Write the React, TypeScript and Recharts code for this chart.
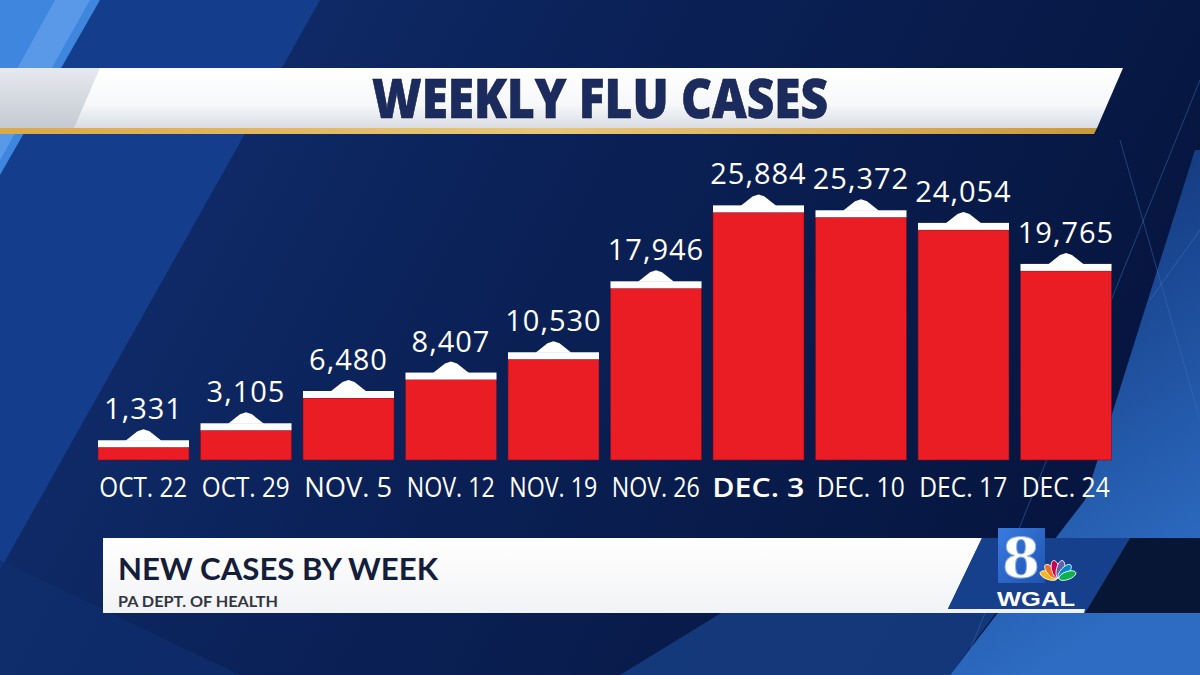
import React from "react"
import { BarChart, Bar, XAxis, YAxis, LabelList } from "recharts"

// weekly flu cases, PA dept. of health
const weeks = ["OCT. 22", "OCT. 29", "NOV. 5", "NOV. 12", "NOV. 19", "NOV. 26", "DEC. 3", "DEC. 10", "DEC. 17", "DEC. 24"]
const cases = [1331, 3105, 6480, 8407, 10530, 17946, 25884, 25372, 24054, 19765]
const highlightWeek = "DEC. 3"

const chartData = weeks.map((week, i) => ({ week, cases: cases[i] }))

const RED = "#ea1c24"
const NAVY_TEXT = "#1b2b5e"

// red bar with white cap and little peak on top
const CappedBar = (props: any) => {
    const { x, y, width, height } = props
    if (width == null || height == null) return null
    const cx = x + width / 2
    const capH = 7
    return (
        <g>
            <rect x={x} y={y} width={width} height={height} fill={RED} stroke="#7a1020" strokeWidth={0.6} />
            <rect x={x} y={y - capH} width={width} height={capH} fill="#ffffff" />
            <polygon
                points={`${cx - 18},${y - capH + 0.5} ${cx - 6},${y - capH - 9} ${cx},${y - capH - 11} ${cx + 6},${y - capH - 9} ${cx + 18},${y - capH + 0.5}`}
                fill="#ffffff"
            />
        </g>
    )
}

const ValueLabel = (props: any) => {
    const { x, y, width, value } = props
    return (
        <text
            x={x + width / 2}
            y={y - 28}
            textAnchor="middle"
            fill="#ffffff"
            fontFamily="'Open Sans', sans-serif"
            fontWeight={500}
            fontSize={29}
            letterSpacing={1}
        >
            {Number(value).toLocaleString("en-US")}
        </text>
    )
}

const WeekTick = (props: any) => {
    const { x, y, payload } = props
    const bold = payload.value === highlightWeek
    return (
        <text
            x={x}
            y={y + 29}
            textAnchor="middle"
            fill="#ffffff"
            fontFamily="'Open Sans', sans-serif"
            fontWeight={bold ? 600 : 500}
            fontSize={27}
            textLength={bold ? 92 : 88}
            lengthAdjust="spacingAndGlyphs"
        >
            {payload.value}
        </text>
    )
}

function Backdrop() {
    return (
        <svg width={1200} height={675} style={{ position: "absolute", left: 0, top: 0 }}>
            <defs>
                <linearGradient id="base" x1="0" y1="0" x2="1" y2="0.3">
                    <stop offset="0" stopColor="#123275" />
                    <stop offset="0.45" stopColor="#0b2259" />
                    <stop offset="1" stopColor="#061640" />
                </linearGradient>
                <linearGradient id="rightGlow" x1="0" y1="0" x2="0.3" y2="1">
                    <stop offset="0" stopColor="#0d2a66" />
                    <stop offset="0.45" stopColor="#1b4893" />
                    <stop offset="1" stopColor="#2d6cc2" />
                </linearGradient>
                <linearGradient id="banner" x1="0" y1="0" x2="0" y2="1">
                    <stop offset="0" stopColor="#ffffff" />
                    <stop offset="0.6" stopColor="#f7f8fa" />
                    <stop offset="1" stopColor="#d9dde3" />
                </linearGradient>
                <linearGradient id="bannerLeft" x1="0" y1="0" x2="0" y2="1">
                    <stop offset="0" stopColor="#e6e9ee" />
                    <stop offset="1" stopColor="#c5cbd3" />
                </linearGradient>
                <linearGradient id="gold" x1="0" y1="0" x2="1" y2="0">
                    <stop offset="0" stopColor="#d9a94a" />
                    <stop offset="0.5" stopColor="#e8c77a" />
                    <stop offset="1" stopColor="#c99a3c" />
                </linearGradient>
                <linearGradient id="lower" x1="0" y1="0" x2="0" y2="1">
                    <stop offset="0" stopColor="#ffffff" />
                    <stop offset="1" stopColor="#f2f3f5" />
                </linearGradient>
                <linearGradient id="logoBlue" x1="0" y1="0" x2="1" y2="1">
                    <stop offset="0" stopColor="#3a7be0" />
                    <stop offset="1" stopColor="#1f52b0" />
                </linearGradient>
            </defs>

            <rect x={0} y={0} width={1200} height={675} fill="url(#base)" />
            {/* left streaks */}
            <polygon points="90,0 320,0 0,570 0,160" fill="#15408f" opacity={0.9} />
            <polygon points="0,0 100,0 0,175" fill="#3f86df" />
            <polygon points="55,0 90,0 0,160 0,100" fill="#6aa6ee" opacity={0.6} />
            <polygon points="0,560 240,675 0,675" fill="#0f2e6e" opacity={0.7} />
            {/* right / bottom lighter panels */}
            <polygon points="1195,150 1200,150 1200,675 950,675 1085,500" fill="url(#rightGlow)" />
            <polygon points="620,675 950,675 1050,540 840,540" fill="#1a4690" opacity={0.7} />
            <line x1={1200} y1={80} x2={960} y2={675} stroke="#3c6fbf" strokeWidth={1} opacity={0.5} />
            <line x1={1120} y1={140} x2={1200} y2={420} stroke="#3c6fbf" strokeWidth={1} opacity={0.5} />
            <line x1={1150} y1={300} x2={1200} y2={230} stroke="#4a7fd0" strokeWidth={1} opacity={0.4} />

            {/* title banner */}
            <polygon points="0,68 1123,68 1097,128 0,128" fill="url(#banner)" />
            <polygon points="0,68 100,68 74,128 0,128" fill="url(#bannerLeft)" />
            <polygon points="0,128 1097,128 1094,134 0,134" fill="url(#gold)" />
            <text
                x={600}
                y={118}
                textAnchor="middle"
                fill={NAVY_TEXT}
                fontFamily="'Open Sans', sans-serif"
                fontWeight={800}
                fontSize={54}
                textLength={456}
                lengthAdjust="spacingAndGlyphs"
                stroke="#0f1a3d"
                strokeWidth={0.6}
            >
                WEEKLY FLU CASES
            </text>

            {/* lower third */}
            <polygon points="103,538 982,538 946,613 103,613" fill="url(#lower)" />
            <polygon points="982,538 1130,538 1085,613 946,613" fill="#163f8c" />
            <polygon points="1130,538 1200,538 1200,613 1085,613" fill="#071634" />
            <polygon points="940,609 1085,609 1084,613 938,613" fill="#f0f2f5" />
            <text
                x={118}
                y={580}
                fill="#141d3a"
                fontFamily="Lato, sans-serif"
                fontWeight={700}
                fontSize={30}
                textLength={320}
                lengthAdjust="spacingAndGlyphs"
            >
                NEW CASES BY WEEK
            </text>
            <text
                x={118}
                y={607}
                fill="#33373f"
                fontFamily="Lato, sans-serif"
                fontWeight={700}
                fontSize={15}
                textLength={160}
                lengthAdjust="spacingAndGlyphs"
            >
                PA DEPT. OF HEALTH
            </text>

            {/* station logo */}
            <rect x={998} y={528} width={47} height={55} fill="url(#logoBlue)" />
            <text
                x={1021}
                y={577}
                textAnchor="middle"
                fill="#ffffff"
                stroke="#8fb2e6"
                strokeWidth={1}
                fontFamily="'DejaVu Serif', serif"
                fontWeight={700}
                fontSize={54}
            >
                8
            </text>
            <g transform="translate(1058,579)">
                {["#fcb711", "#f37021", "#cc004c", "#6460aa", "#0089d0", "#0db14b"].map((c, i) => (
                    <ellipse key={c} cx={0} cy={-10} rx={4} ry={9} fill={c} stroke="#ffffff" strokeWidth={0.8}
                        transform={`rotate(${-70 + i * 28})`} />
                ))}
            </g>
            <text
                x={997}
                y={606}
                fill="#ffffff"
                fontFamily="'Liberation Sans', Arial, sans-serif"
                fontWeight={700}
                fontSize={21}
                textLength={78}
                lengthAdjust="spacingAndGlyphs"
            >
                WGAL
            </text>
        </svg>
    )
}

export default function App() {
    return (
        <div style={{ position: "absolute", left: 0, top: 0, width: 1200, height: 675, overflow: "hidden" }}>
            <Backdrop />
            <div style={{ position: "absolute", left: 0, top: 0 }}>
                <BarChart
                    width={1200}
                    height={675}
                    data={chartData}
                    margin={{ top: 173, right: 83, bottom: 185, left: 92 }}
                >
                    <XAxis dataKey="week" axisLine={false} tickLine={false} height={30} interval={0} tick={<WeekTick />} />
                    <YAxis hide domain={[0, 30000]} />
                    <Bar dataKey="cases" barSize={91} shape={<CappedBar />} isAnimationActive={false}>
                        <LabelList dataKey="cases" content={<ValueLabel />} />
                    </Bar>
                </BarChart>
            </div>
        </div>
    )
}
